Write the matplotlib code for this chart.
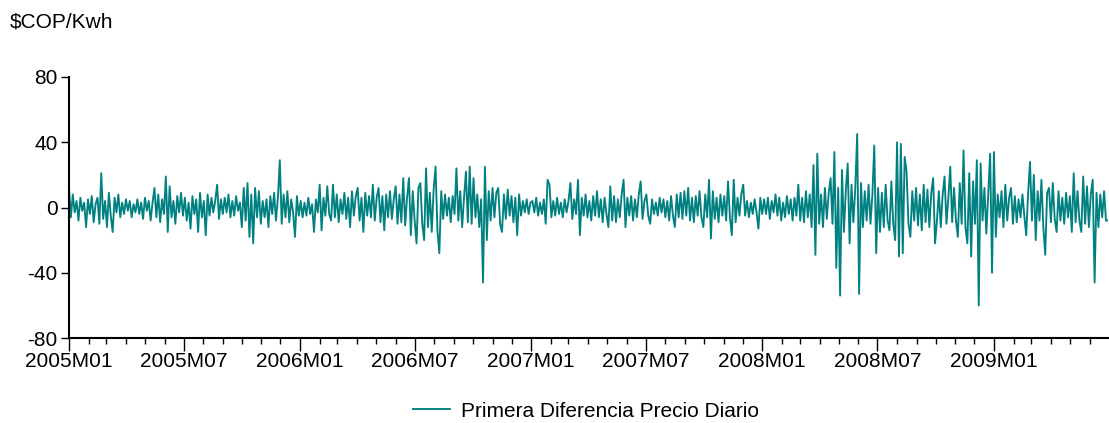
import pandas as pd
import matplotlib
matplotlib.use("Agg")
import matplotlib.pyplot as plt
import matplotlib.dates as mdates
from matplotlib.ticker import FuncFormatter

# primera diferencia del precio diario ($COP/Kwh), leida cada 3 dias
dif_2005 = [12, -6, 8, -3, 4, -8, 6, -2, 3, -12, 5, -4, 7, -9, 2, 6,
            -10, 21, -7, 4, -12,
            9, -5, -15, 6, -3, 8, -6, 3, -4, 5, -2, 4, -6, 2, -3,
            5, -4, 3, -7, 6, -2, 4, -8, 3, 12,
            -6, 8, -9, 5, -4, 19, -15, 13, -6, 4, -10, 7, -3, 9, -5,
            6, -8, 3, -13, 7, -4, 5, -15, 9, -6, 4, -17, 8, -5, 6, -3, 4, 14, -7, 5,
            -4, 6, -3, 8, -6, 4, -5, 7, -2, 3, -12, 12, -8, 15, -18,
            8, -22, 12, -6, 10, -10, 4, -6, 5, -12, 7, -4, 9, -8, 6,
            29, -10, 8, -6, 10, -9, 5, -3, -18, 7, -5]
dif_2006 = [4, -6, 3, -5, 6, -4, 2, -15, 5, -3, 14, -14, 6, -5, 13, -4, -8,
            14, -6, 8, -9, 5, -4, 9, -7, 6, -12, 10, -5, 7, 12, -8, 6, -15, 9, -5, 7, -6,
            14, -8, 6, 12, -9, 7, -14, 8, -6, 10, -7, 5, 13, -10, 8,
            -9, 18, -11, 6, 18, -17, 10, -8, -22, 12, 15, -10, -20, 24, -12, 9, -15, 11, 25, -14, -28,
            10, -7, 8, -5, 6, -9, 7, -4, 24, -8, 10, -12, 6, 22, -9, 25,
            -10, 18, -6, 8, -12, 5, -46, 25, -20, 10, -8, 12, -6, 9, 12, -10,
            -15, 8, -7, 11, -5, 7, -9, 6, -17, 8, -5, 4, -3, 5, -4, 3]
dif_2007 = [4, -3, 6, -5, 3, -4, 5, -10, 17, 14, -6, 4, -5,
            6, -4, 3, -6, 5, -3, 4, 15, -7, 5, -4, 17, -17, 6, -5,
            8, -6, 4, -8, 7, -5, 10, -6, 5, -9, 6, -4,
            -12, 13, -8, 7, -9, 5, -6, 8, 17, -12, 6, -5, 7,
            -8, 5, -6, 8, 16,
            -7, 4, 8, -5, -10, 5, -4, 3, -5, 6, -3,
            5, -6, 4, -8, 7, -5, -12, 8, -6, 9, -7, 10, -5, 12, -8, 6, -9, 7, -5, 10, -6,
            -12, 8, -6, 17, -19, 10, -7, 6, -9, 8, -5, 7, -8, 16, -6, -17, 17, -9, 6, -5, 8,
            14, -5, 4, -6, 3, -4, 5, -3, -13, 6, -4]
dif_2008 = [5, -4, 6, -7, 4, -3, 8, -5, 6, -8, 3, -6, 7, -4, 5, -8, 6, -5,
            14, -8, 6, -9, 10, -6, 8, -12, 26, -29, 33, -10, 8, -12, 12, -7, 9, 18,
            -10, 34, -37, 12, -54, 23, -15, 10, 27, -22, 14, -9, 12, 45, -53, 15,
            -12, 10, -8, 14, -10, 8, 38, -28,
            12, -15, 9, -12, 14, -8, -14, 16, -10, -20, 40, -30, 39,
            -28, 31, 22, -10, -18, 10, -8, 12, -11, 8, -14, 14, -9, 11, -12, 9, 18, -22, -8,
            10, -12, 8, 19, -10, 6, 25, -9, 12, -8, -18, 15, -10,
            35, -12, -22, 21, -30, 16, -10, 29, -60, 27, -8, 12, -16, 8, 33, -40, 34]
dif_2009 = [-18, 8, -6, 10, -12, 14, -8, 6, 12,
            -10, 7, -9, 5, -6, 8, -5, -17, 9, 28, -8,
            20, -20, 10, -8, 17, -12, -29, 9,
            12, -9, 15, -7, -15, 10, -8, 6, -10, 9, -6, 7, -15, 21, -9,
            10, -8, -15, 19, -10, 13, -12, 8, 17, -46, 9, -12, 8, -6, 10, -8, -8]

y_ticks = [-80, -40, 0, 40, 80]
serie_label = "Primera Diferencia Precio Diario"
unidad = "\\$COP/Kwh"

valores = dif_2005 + dif_2006 + dif_2007 + dif_2008 + dif_2009
fechas = pd.date_range("2005-01-01", periods=len(valores), freq="3D")

plt.rcParams["font.family"] = ["Liberation Sans", "DejaVu Sans"]
plt.rcParams["axes.unicode_minus"] = False

fig = plt.figure(figsize=(11.09, 4.23), dpi=100)
ax = fig.add_axes([0.0622, 0.2009, 0.9368, 0.6171])

ax.plot(fechas, valores, color="#008080", linewidth=1.35, label=serie_label)

ax.set_ylim(-80, 80)
ax.set_yticks(y_ticks)
ax.set_xlim(pd.Timestamp("2005-01-01"), pd.Timestamp("2009-06-30"))

# ticks mayores cada semestre, menores cada mes
ax.xaxis.set_major_locator(mdates.MonthLocator(bymonth=[1, 7]))
ax.xaxis.set_minor_locator(mdates.MonthLocator())
ax.xaxis.set_major_formatter(
    FuncFormatter(lambda v, pos: "{}M{:02d}".format(mdates.num2date(v).year, mdates.num2date(v).month))
)

for s in ["top", "right"]:
    ax.spines[s].set_visible(False)
for s in ["left", "bottom"]:
    ax.spines[s].set_linewidth(1.5)
    ax.spines[s].set_color("black")

ax.tick_params(axis="y", which="major", length=6, width=1.0, labelsize=15, pad=2)
ax.tick_params(axis="x", which="major", length=9, width=1.0, labelsize=15, pad=1)
ax.tick_params(axis="x", which="minor", length=4, width=1.0)

fig.text(0.009, 1 - 22 / 423, unidad, fontsize=15, va="center", ha="left")

fig.legend(loc="center", bbox_to_anchor=(0.528, 0.028), frameon=False,
           fontsize=15, handlelength=1.8, handletextpad=0.5)

plt.savefig("out.png", dpi=100)
plt.close()
